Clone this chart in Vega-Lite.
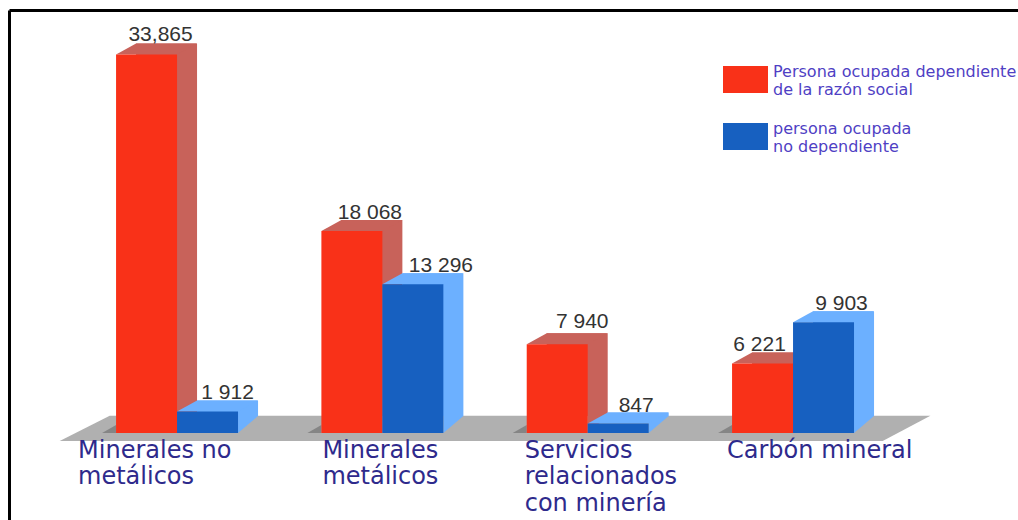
{
"$schema":"https://vega.github.io/schema/vega-lite/v6.json",
"width":1009,"height":510,"autosize":"none",
"padding":{"left":9,"top":10,"right":0,"bottom":0},
"background":"white",
"config":{"view":{"stroke":null}},
"data":{"values":[
{"cat":"Minerales no metálicos","rotulo":"Minerales no\nmetálicos","serie":"Persona ocupada dependiente de la razón social","valor":33865,"etiqueta":"33,865"},
{"cat":"Minerales no metálicos","rotulo":"Minerales no\nmetálicos","serie":"persona ocupada no dependiente","valor":1912,"etiqueta":"1 912"},
{"cat":"Minerales metálicos","rotulo":"Minerales\nmetálicos","serie":"Persona ocupada dependiente de la razón social","valor":18068,"etiqueta":"18 068"},
{"cat":"Minerales metálicos","rotulo":"Minerales\nmetálicos","serie":"persona ocupada no dependiente","valor":13296,"etiqueta":"13 296"},
{"cat":"Servicios relacionados con minería","rotulo":"Servicios\nrelacionados\ncon minería","serie":"Persona ocupada dependiente de la razón social","valor":7940,"etiqueta":"7 940"},
{"cat":"Servicios relacionados con minería","rotulo":"Servicios\nrelacionados\ncon minería","serie":"persona ocupada no dependiente","valor":847,"etiqueta":"847"},
{"cat":"Carbón mineral","rotulo":"Carbón mineral","serie":"Persona ocupada dependiente de la razón social","valor":6221,"etiqueta":"6 221"},
{"cat":"Carbón mineral","rotulo":"Carbón mineral","serie":"persona ocupada no dependiente","valor":9903,"etiqueta":"9 903"}
]},
"encoding":{
"x":{"field":"cat","type":"nominal","title":null,
"scale":{"type":"band","domain":["Minerales no metálicos","Minerales metálicos","Servicios relacionados con minería","Carbón mineral"],"paddingInner":0.406,"paddingOuter":0.66,"align":0.395},
"axis":{"orient":"top","labels":false,"ticks":false,"grid":false,"domain":true,"domainColor":"#000000","domainWidth":3,"title":null}},
"y":{"type":"quantitative","field":"valor","title":null,
"scale":{"domain":[-7782,37835],"nice":false,"zero":false},
"axis":{"orient":"left","labels":false,"ticks":false,"grid":false,"domain":true,"domainColor":"#000000","domainWidth":3,"title":null}},
"xOffset":{"field":"serie","type":"nominal","sort":null,"scale":{"paddingInner":0,"paddingOuter":0}}
},
"layer":[
{"transform":[{"filter":"datum.valor==847"}],
 "mark":{"type":"point","filled":true,"opacity":1,"size":40000,"fill":"#b0b0b0","stroke":null,"shape":"M-5.28,0.08L-4.78,-0.173L3.427,-0.173L2.95,0.08Z"},
 "encoding":{"xOffset":null,"y":{"datum":0}}},
{"transform":[{"filter":"datum.serie[0]=='P'"}],
 "mark":{"type":"point","filled":true,"opacity":1,"size":40000,"fill":"#858585","stroke":null,"shape":"M-0.445,0L-0.305,-0.08L-0.305,0Z"},
 "encoding":{"y":{"datum":0}}},
{"transform":[{"filter":"datum.serie[0]=='P'"}],
 "mark":{"type":"point","filled":true,"opacity":1,"size":40000,"fill":"#c8625a","stroke":null,"shape":"M0.305,0L0.505,-0.17L0.305,-0.17Z"},
 "encoding":{"y":{"datum":0}}},
{"transform":[{"filter":"datum.serie[0]=='P'"}],
 "mark":{"type":"bar","fill":"#c8625a","width":61,"xOffset":-10.5,"yOffset":-11},
 "encoding":{"xOffset":null,"y2":{"datum":1520}}},
{"transform":[{"filter":"datum.serie[0]=='P'"}],
 "mark":{"type":"point","filled":true,"opacity":1,"size":40000,"fill":"#c8625a","stroke":null,"shape":"M-0.305,0L-0.105,-0.11L0.505,-0.11L0.305,0Z"}},
{"transform":[{"filter":"datum.serie[0]=='P'"}],
 "mark":{"type":"bar"},
 "encoding":{"y2":{"datum":0},"color":{"field":"serie","type":"nominal","title":null,
  "scale":{"domain":["Persona ocupada dependiente de la razón social","persona ocupada no dependiente"],"range":["#f93118","#1760c0"]},
  "legend":{"orient":"none","legendX":714,"legendY":47,"padding":0,"symbolType":"M-1,-0.6H1V0.6H-1Z","symbolSize":2025,"symbolStrokeWidth":0,"symbolOpacity":1,"rowPadding":16,"labelOffset":5,"labelFont":"DejaVu Sans","labelFontSize":16,"labelColor":"#4f3fc4","labelLimit":320,"labelBaseline":"bottom","labelLineHeight":18,
   "labelExpr":"datum.label[0]=='P' ? ['Persona ocupada dependiente','de la razón social'] : ['persona ocupada','no dependiente']"}}}},
{"transform":[{"filter":"datum.serie[0]=='p'"}],
 "mark":{"type":"point","filled":true,"opacity":1,"size":40000,"fill":"#6cb0ff","stroke":null,"shape":"M0.305,0L0.505,-0.17L0.305,-0.17Z"},
 "encoding":{"y":{"datum":0}}},
{"transform":[{"filter":"datum.serie[0]=='p'"}],
 "mark":{"type":"bar","fill":"#6cb0ff","width":61,"xOffset":50.5,"yOffset":-11},
 "encoding":{"xOffset":null,"y2":{"datum":1520}}},
{"transform":[{"filter":"datum.serie[0]=='p'"}],
 "mark":{"type":"point","filled":true,"opacity":1,"size":40000,"fill":"#6cb0ff","stroke":null,"shape":"M-0.305,0L-0.105,-0.11L0.505,-0.11L0.305,0Z"}},
{"transform":[{"filter":"datum.serie[0]=='p'"}],
 "mark":{"type":"bar"},
 "encoding":{"y2":{"datum":0},"color":{"field":"serie","type":"nominal","title":null}}},
{"transform":[{"filter":"datum.valor==33865"}],"mark":{"type":"text","font":"Liberation Sans","fontSize":21,"fill":"#333333","dx":14,"dy":-13,"baseline":"alphabetic"},"encoding":{"text":{"field":"etiqueta"}}},
{"transform":[{"filter":"datum.valor==18068 || datum.valor==847 || datum.valor==9903"}],"mark":{"type":"text","font":"Liberation Sans","fontSize":21,"fill":"#333333","dx":18,"dy":-12,"baseline":"alphabetic"},"encoding":{"text":{"field":"etiqueta"}}},
{"transform":[{"filter":"datum.valor==1912"}],"mark":{"type":"text","font":"Liberation Sans","fontSize":21,"fill":"#333333","dx":20,"dy":-13,"baseline":"alphabetic"},"encoding":{"text":{"field":"etiqueta"}}},
{"transform":[{"filter":"datum.valor==13296"}],"mark":{"type":"text","font":"Liberation Sans","fontSize":21,"fill":"#333333","dx":28,"dy":-12,"baseline":"alphabetic"},"encoding":{"text":{"field":"etiqueta"}}},
{"transform":[{"filter":"datum.valor==7940"}],"mark":{"type":"text","font":"Liberation Sans","fontSize":21,"fill":"#333333","dx":25,"dy":-16,"baseline":"alphabetic"},"encoding":{"text":{"field":"etiqueta"}}},
{"transform":[{"filter":"datum.valor==6221"}],"mark":{"type":"text","font":"Liberation Sans","fontSize":21,"fill":"#333333","dx":-3,"dy":-12,"baseline":"alphabetic"},"encoding":{"text":{"field":"etiqueta"}}},
{"transform":[{"filter":"datum.valor==33865"}],"mark":{"type":"text","font":"DejaVu Sans","fontSize":24,"fill":"#2e2a8c","align":"left","dx":-99,"dy":25,"baseline":"alphabetic","lineBreak":"\n","lineHeight":26.5},"encoding":{"xOffset":null,"y":{"datum":0},"text":{"field":"rotulo"}}},
{"transform":[{"filter":"datum.valor==18068"}],"mark":{"type":"text","font":"DejaVu Sans","fontSize":24,"fill":"#2e2a8c","align":"left","dx":-60,"dy":25,"baseline":"alphabetic","lineBreak":"\n","lineHeight":26.5},"encoding":{"xOffset":null,"y":{"datum":0},"text":{"field":"rotulo"}}},
{"transform":[{"filter":"datum.valor==7940"}],"mark":{"type":"text","font":"DejaVu Sans","fontSize":24,"fill":"#2e2a8c","align":"left","dx":-63,"dy":25,"baseline":"alphabetic","lineBreak":"\n","lineHeight":26.5},"encoding":{"xOffset":null,"y":{"datum":0},"text":{"field":"rotulo"}}},
{"transform":[{"filter":"datum.valor==6221"}],"mark":{"type":"text","font":"DejaVu Sans","fontSize":24,"fill":"#2e2a8c","align":"left","dx":-66,"dy":25,"baseline":"alphabetic","lineBreak":"\n","lineHeight":26.5},"encoding":{"xOffset":null,"y":{"datum":0},"text":{"field":"rotulo"}}}
]
}
